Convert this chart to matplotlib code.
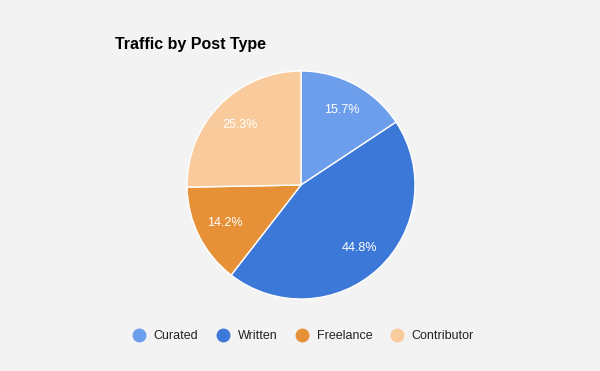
import matplotlib.pyplot as plt
from matplotlib.lines import Line2D

plt.rcParams['font.family'] = ['Liberation Sans', 'DejaVu Sans']

labels = ["Curated", "Written", "Freelance", "Contributor"]
values = [15.7, 44.8, 14.2, 25.3]
colors = ["#6d9eeb", "#3c78d8", "#e69138", "#f9cb9c"]
bg = "#f3f3f3"

fig = plt.figure(figsize=(6, 3.71), dpi=100, facecolor=bg)
ax = fig.add_axes([187 / 600, 72 / 371, 228 / 600, 228 / 371])
ax.set_facecolor(bg)

wedges, texts, autotexts = ax.pie(values, colors=colors, startangle=90, counterclock=False,
                                  autopct="%.1f%%", pctdistance=0.75,
                                  wedgeprops=dict(edgecolor="white", linewidth=1),
                                  textprops=dict(color="white", fontsize=9))
ax.set_xlim(-1, 1)
ax.set_ylim(-1, 1)
ax.set_aspect("equal")

fig.text(115 / 600, 1 - 45 / 371, "Traffic by Post Type", fontsize=11.5, fontweight="bold",
         ha="left", va="center", color="black")

handles = [Line2D([], [], marker="o", linestyle="", markersize=9, markerfacecolor=c,
                  markeredgecolor=c) for c in colors]
fig.legend(handles, labels, loc="center", bbox_to_anchor=(0.5, 1 - 336 / 371), ncol=4,
           frameon=False, fontsize=9, handletextpad=0.2, columnspacing=0.95,
           labelcolor="#222222")

fig.savefig("out.png", dpi=100, facecolor=bg)
